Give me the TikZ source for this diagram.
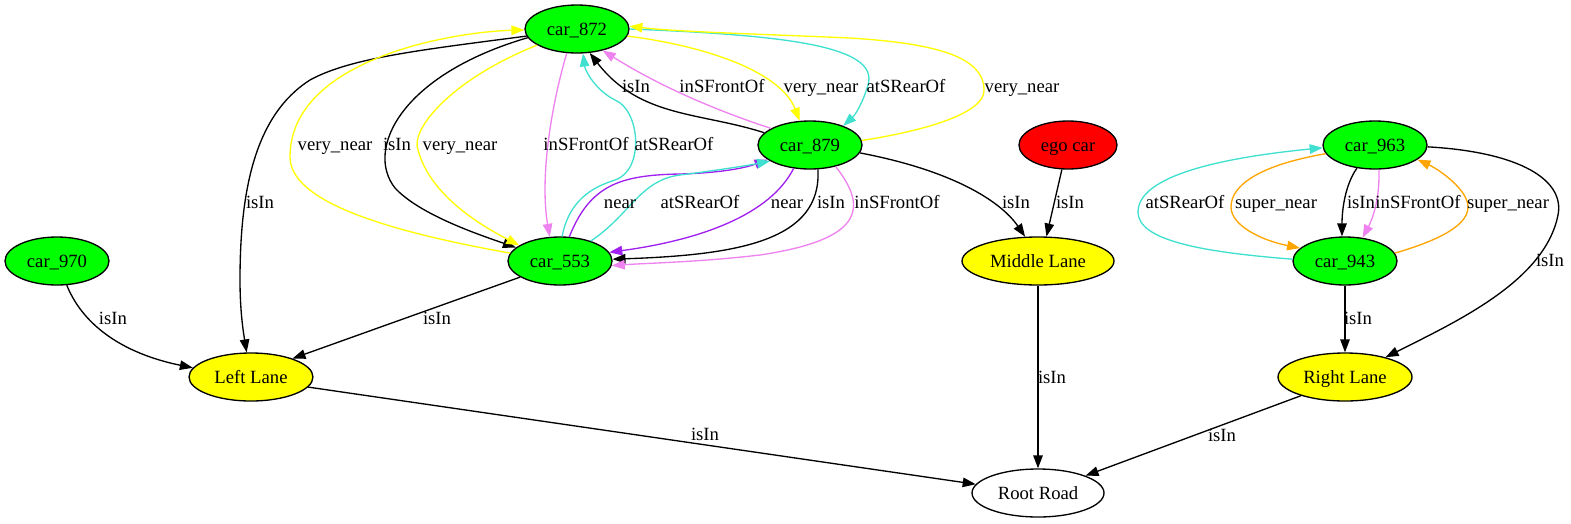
\documentclass[tikz,border=0pt]{standalone}
\usepackage{fontspec}
\setmainfont{Liberation Serif}
\usetikzlibrary{shapes.geometric,arrows.meta}
\definecolor{cgreen}{HTML}{00FF00}
\definecolor{cyellow}{HTML}{FFFF00}
\definecolor{cred}{HTML}{FF0000}
\definecolor{cturq}{HTML}{40E0D0}
\definecolor{cviolet}{HTML}{EE82EE}
\definecolor{cpurple}{HTML}{A020F0}
\definecolor{corange}{HTML}{FFA500}
\begin{document}
\begin{tikzpicture}[x=1pt,y=-1pt,
  font=\fontsize{18.67}{22}\selectfont,
  basenode/.style={ellipse, draw, line width=1.33pt, inner sep=0pt, minimum height=48pt, text height=12pt, text depth=0pt},
  car/.style={basenode, fill=cgreen, minimum width=104pt},
  lane/.style={basenode, fill=cyellow},
  lbl/.style={inner sep=0pt, anchor=center, text height=12pt, text depth=0pt},
  edge/.style={line width=1.33pt, -{Triangle[length=13pt,width=9.5pt]}},
]
\useasboundingbox (0,0) rectangle (1571,523);
% nodes
\node[car] (c872) at (577,29) {car\_872};
\node[car] (c879) at (810,145) {car\_879};
\node[car] (c553) at (560,261) {car\_553};
\node[car] (c970) at (57,261) {car\_970};
\node[lane, minimum width=124pt] (left) at (251,377) {Left Lane};
\node[lane, minimum width=152pt] (middle) at (1038,261) {Middle Lane};
\node[basenode, fill=cred, minimum width=98pt] (ego) at (1068,145) {ego car};
\node[car] (c963) at (1375,145) {car\_963};
\node[car] (c943) at (1345,261) {car\_943};
\node[lane, minimum width=134pt] (right) at (1345,377) {Right Lane};
\node[basenode, minimum width=132pt] (root) at (1038,493) {Root Road};

% edges around car_872 / car_553 (left side)
\draw[edge] (c872.188) .. controls (420,50) and (350,58) .. (310,80) .. controls (255,115) and (240,190) .. (240,280) .. controls (240,310) and (243,330) .. (left.100);
\draw[edge, cyellow] (c553.171) .. controls (380,230) and (290,200) .. (290,157) .. controls (290,60) and (450,32) .. (c872.181);
\draw[edge] (c872.190) .. controls (400,75) and (365,150) .. (395,188) .. controls (420,215) and (480,235) .. (c553.163);
\draw[edge, cyellow] (c872.202) .. controls (450,80) and (410,130) .. (418,150) .. controls (430,195) and (480,225) .. (c553.159);
\draw[edge, cviolet] (c872.247) .. controls (550,110) and (540,180) .. (c553.113);
\draw[edge, cturq] (c553.85) .. controls (570,195) and (600,185) .. (615,180) .. controls (645,170) and (640,110) .. (615,100) .. controls (595,90) and (585,70) .. (c872.284);

% car_879 <-> car_872
\draw[edge] (c879.165) .. controls (700,112) and (640,118) .. (c872.298);
\draw[edge, cviolet] (c879.157) .. controls (700,105) and (650,80) .. (c872.320);
\draw[edge, cyellow] (c872.352) .. controls (700,45) and (780,70) .. (c879.113);
\draw[edge, cturq] (c872.0) .. controls (780,35) and (880,45) .. (868,85) .. controls (862,105) and (855,115) .. (c879.30);
\draw[edge, cyellow] (c879.5) .. controls (930,130) and (985,112) .. (984,90) .. controls (984,55) and (930,43) .. (850,38) .. controls (760,34) and (680,32) .. (c872.3);

% car_553 <-> car_879
\draw[edge, cpurple] (c553.69) .. controls (590,185) and (620,175) .. (680,174) .. controls (720,173) and (745,168) .. (c879.199);
\draw[edge, cturq] (c553.33) .. controls (630,215) and (640,180) .. (680,175) .. controls (720,170) and (750,165) .. (c879.202);
\draw[edge, cpurple] (c879.235) .. controls (770,215) and (700,240) .. (c553.10);
\draw[edge] (c879.288) .. controls (822,240) and (740,255) .. (c553.2);
\draw[edge, cviolet] (c879.320) .. controls (870,210) and (860,240) .. (760,255) .. controls (700,262) and (650,263) .. (c553.355);

% middle
\draw[edge] (c879.351) .. controls (950,170) and (1000,200) .. (middle.118);
\draw[edge] (ego.256) -- (middle.71.5);
\draw[edge] (middle.south) -- (root.north);

% right cluster
\draw[edge] (c963.232) .. controls (1345,185) and (1342,210) .. (c943.97);
\draw[edge, cviolet] (c963.279.5) .. controls (1380,200) and (1372,220) .. (c943.53.5);
\draw[edge, cturq] (c943.178) .. controls (1200,252) and (1138,240) .. (1138,212) .. controls (1138,170) and (1250,155) .. (c963.183);
\draw[edge, corange] (c963.190) .. controls (1260,165) and (1231,185) .. (1231,207) .. controls (1231,225) and (1260,240) .. (c943.164);
\draw[edge, corange] (c943.9) .. controls (1440,240) and (1468,225) .. (1468,207) .. controls (1468,190) and (1440,170) .. (c963.341);
\draw[edge] (c963.358) .. controls (1520,152) and (1565,180) .. (1558,215) .. controls (1545,280) and (1460,320) .. (right.26);
\draw[edge] (c943.south) -- (right.north);

% bottom
\draw[edge] (right.203.5) -- (root.20.7);
\draw[edge] (left.350) -- (root.172);
\draw[edge] (c553.202) -- (left.24);
\draw[edge] (c970.292.6) .. controls (85,330) and (130,355) .. (left.171);

% labels
\node[lbl] (l1) at (260,202) {isIn};
\node[lbl] (l2) at (335,144) {very\_near};
\node[lbl] (l3) at (397,144) {isIn};
\node[lbl] (l4) at (460,144) {very\_near};
\node[lbl] (l5) at (586,144) {inSFrontOf};
\node[lbl] (l6) at (674,144) {atSRearOf};
\node[lbl] (l7) at (636,86) {isIn};
\node[lbl] (l8) at (722,86) {inSFrontOf};
\node[lbl] (l9) at (821,86) {very\_near};
\node[lbl] (l10) at (906,86) {atSRearOf};
\node[lbl] (l11) at (1022,86) {very\_near};
\node[lbl] (l12) at (620,202) {near};
\node[lbl] (l13) at (700,202) {atSRearOf};
\node[lbl] (l14) at (787,202) {near};
\node[lbl] (l15) at (831,202) {isIn};
\node[lbl] (l16) at (897,202) {inSFrontOf};
\node[lbl] (l17) at (1016,202) {isIn};
\node[lbl] (l18) at (1070,202) {isIn};
\node[lbl] (l19) at (1052,377) {isIn};
\node[lbl] (l20) at (1185,202) {atSRearOf};
\node[lbl] (l21) at (1276,202) {super\_near};
\node[lbl] (l22) at (1361,202) {isIn};
\node[lbl] (l23) at (1418,202) {inSFrontOf};
\node[lbl] (l24) at (1508,202) {super\_near};
\node[lbl] (l25) at (1550,260) {isIn};
\node[lbl] (l26) at (1358,318) {isIn};
\node[lbl] (l27) at (1222,435) {isIn};
\node[lbl] (l28) at (705,434) {isIn};
\node[lbl] (l29) at (437,318) {isIn};
\node[lbl] (l30) at (113,318) {isIn};
\end{tikzpicture}
\end{document}
